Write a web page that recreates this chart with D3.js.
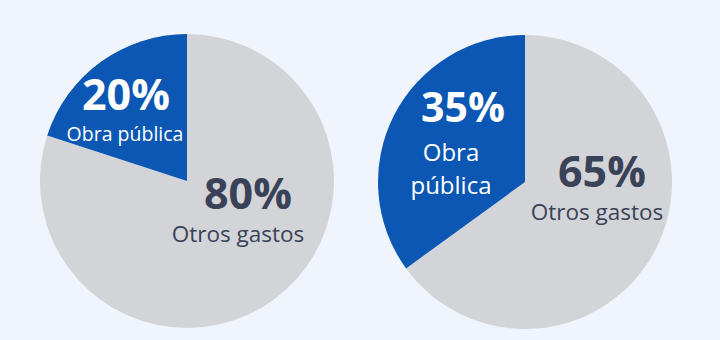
<!DOCTYPE html>
<html lang="es">
<head>
<meta charset="utf-8">
<script src="https://cdn.jsdelivr.net/npm/d3@7"></script>
<style>
  html, body { margin: 0; padding: 0; background: #f0f5fd; }
  svg { display: block; }
  text { font-family: "Open Sans", "Noto Sans", sans-serif; }
</style>
</head>
<body>
<svg id="chart" width="720" height="340"></svg>
<script>
// Reparto del gasto: dos escenarios
const categories = ["Otros gastos", "Obra pública"];
const scenarioA = [80, 20];
const scenarioB = [65, 35];
const sliceColors = ["#d3d4d8", "#0b57b3"];

const svg = d3.select("#chart");
const radius = 147;

const color = d3.scaleOrdinal().domain(categories).range(sliceColors);
const pie = d3.pie().sort(null).value(d => d.value).startAngle(0).endAngle(2 * Math.PI);
const arc = d3.arc().innerRadius(0).outerRadius(radius);

// Each slice label is one text block: the percentage line, then the name lines.
// pct: [x, baseline, fontSize]; lines: [text, x, baseline] with a shared nameSize.
const pies = [
  {
    values: scenarioA, cx: 187, cy: 181,
    labels: [
      { pct: [248, 209, 43], nameSize: 22.5, lines: [["Otros gastos", 238, 242]] },
      { pct: [126, 110, 43], nameSize: 19.5, lines: [["Obra pública", 125, 141]] }
    ]
  },
  {
    values: scenarioB, cx: 525, cy: 182,
    labels: [
      { pct: [602, 187, 43], nameSize: 22.5, lines: [["Otros gastos", 597, 220]] },
      { pct: [463, 122, 41], nameSize: 24, lines: [["Obra", 451, 161], ["pública", 451, 194]] }
    ]
  }
];

pies.forEach(p => {
  const data = categories.map((c, i) => ({ category: c, value: p.values[i] }));
  const g = svg.append("g").attr("transform", `translate(${p.cx},${p.cy})`);

  g.selectAll("path")
    .data(pie(data))
    .join("path")
    .attr("d", arc)
    .attr("fill", d => color(d.data.category));

  data.forEach((d, i) => {
    const lab = p.labels[i];
    const fill = d.category === "Obra pública" ? "#ffffff" : "#3a4257";

    const t = svg.append("text")
      .attr("text-anchor", "middle")
      .attr("fill", fill);

    t.append("tspan")
      .attr("x", lab.pct[0])
      .attr("y", lab.pct[1])
      .attr("font-size", lab.pct[2])
      .attr("font-weight", 700)
      .text(d3.format("d")(d.value) + "%");

    lab.lines.forEach(([line, x, y]) => {
      t.append("tspan")
        .attr("x", x)
        .attr("y", y)
        .attr("font-size", lab.nameSize)
        .text(line);
    });
  });
});
</script>
</body>
</html>
